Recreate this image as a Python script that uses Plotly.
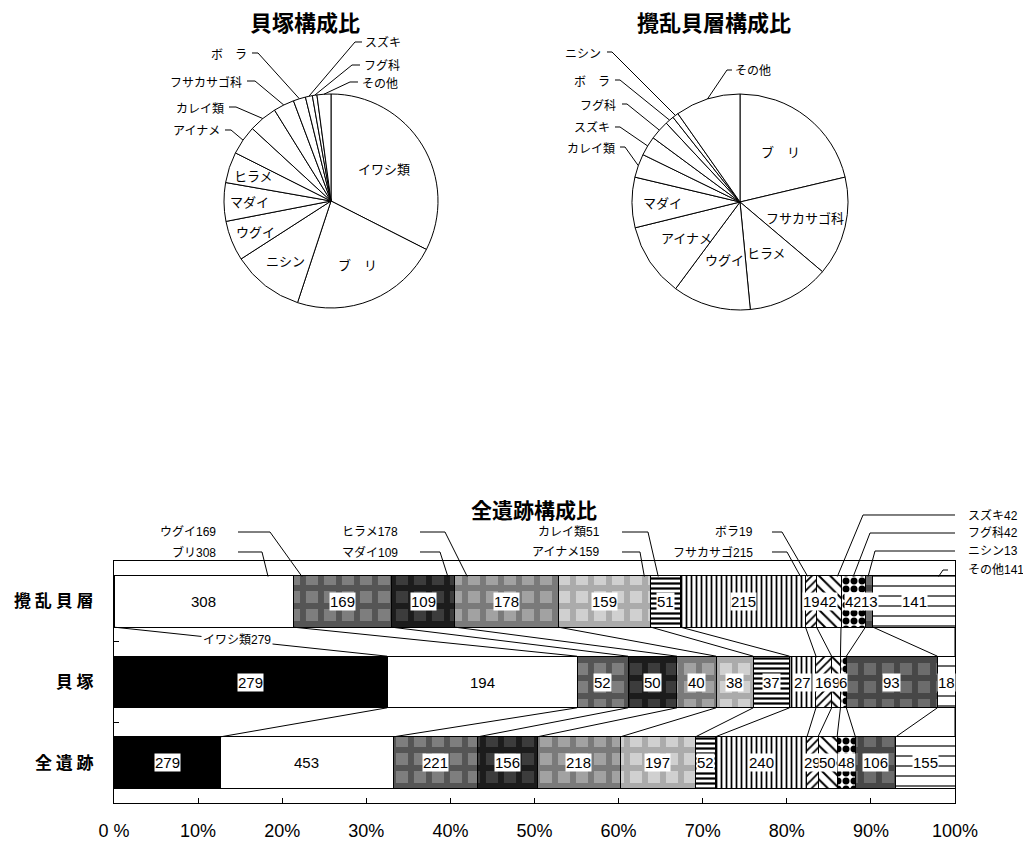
import numpy as np
import plotly.graph_objects as go

W, H = 1023, 843

# ---------------- data ----------------
species = ["イワシ類", "ブリ", "ウグイ", "マダイ", "ヒラメ", "アイナメ", "カレイ類",
           "フサカサゴ", "ボラ", "スズキ", "フグ科", "ニシン", "その他"]
kakuran = [0, 308, 169, 109, 178, 159, 51, 215, 19, 42, 42, 13, 141]      # 攪乱貝層
kaizuka = [279, 194, 52, 50, 40, 38, 37, 27, 16, 9, 6, 93, 18]            # 貝塚
zen_iseki = [279, 453, 221, 156, 218, 197, 52, 240, 29, 50, 48, 106, 155]  # 全遺跡
row_ticktext = ["攪 乱 貝 層", "貝 塚", "全 遺 跡"]
x_tickvals = [0, 10, 20, 30, 40, 50, 60, 70, 80, 90, 100]
x_ticktext = ["0 %", "10%", "20%", "30%", "40%", "50%", "60%", "70%", "80%", "90%", "100%"]

pie1_labels = ["イワシ類", "ブ　リ", "ニシン", "ウグイ", "マダイ", "ヒラメ", "アイナメ",
               "カレイ類", "フサカサゴ科", "ボ　ラ", "スズキ", "フグ科", "その他"]
pie1_values = [279, 194, 93, 52, 50, 40, 38, 37, 27, 16, 9, 6, 18]
pie2_labels = ["ブ　リ", "フサカサゴ科", "ヒラメ", "ウグイ", "アイナメ", "マダイ",
               "カレイ類", "スズキ", "フグ科", "ボ　ラ", "ニシン", "その他"]
pie2_values = [308, 215, 178, 169, 159, 109, 51, 42, 42, 19, 13, 141]

# ---------------- styles ----------------
JP = "Noto Sans CJK JP"
NUM = "Liberation Sans, Arial, Noto Sans CJK JP"
BLACK = "black"

# fill style per species: (base colour, pattern shape, pattern colour, size, solidity)
styles = [
    ("#000000", "", None, 8, 0.3),
    ("#ffffff", "", None, 8, 0.3),
    ("#7e7e7e", "+", "#555555", 18, 0.55),
    ("#3c3c3c", "+", "#1c1c1c", 18, 0.55),
    ("#a2a2a2", "+", "#7a7a7a", 18, 0.55),
    ("#d0d0d0", "+", "#ababab", 18, 0.55),
    ("#ffffff", "-", "#000000", 5, 0.45),
    ("#ffffff", "|", "#000000", 5, 0.35),
    ("#ffffff", "/", "#000000", 6, 0.3),
    ("#ffffff", "\\", "#000000", 8, 0.25),
    ("#ffffff", ".", "#000000", 8, 0.6),
    ("#6c6c6c", "+", "#474747", 18, 0.55),
    ("#ffffff", "-", "#000000", 10, 0.12),
]

# plot frame of the stacked bars (pixels) and row coordinates
BX0, BX1, BY0, BY1 = 114, 955, 561, 803
YMIN, YMAX = -0.5, 2.5
BAR_W = 0.64
rows_y = [2, 1, 0]
rows_data = [kakuran, kaizuka, zen_iseki]


def paper(x, y):
    return x / W, 1 - y / H


def xpct_px(p):
    return BX0 + p / 100 * (BX1 - BX0)


def yrow_px(v):
    return BY0 + (YMAX - v) / (YMAX - YMIN) * (BY1 - BY0)


def path(points):
    pts = [paper(x, y) for x, y in points]
    return "M " + " L ".join(f"{a:.5f},{b:.5f}" for a, b in pts)


def label(x, y, text, size=12, family=JP, xanchor="center", ref="paper", **kw):
    if ref == "paper":
        x, y = paper(x, y)
        xref = yref = "paper"
    else:
        xref, yref = "x", "y"
    return dict(x=x, y=y, xref=xref, yref=yref, text=text, showarrow=False,
                xanchor=xanchor, yanchor="middle",
                font=dict(family=family, size=size, color=BLACK), **kw)


fig = go.Figure()
annotations = []
shapes = []

# ---------------- pies ----------------
pies = [
    dict(labels=pie1_labels, values=pie1_values, cx=331, cy=201, r=107,
         title="貝塚構成比", tx=305, ty=21,
         inside={0: 0.58, 1: 0.64, 2: 0.7, 3: 0.76, 4: 0.76, 5: 0.76},
         outside={6: ("L", 222, 130, 225, 231), 7: ("L", 226, 107, 229, 236),
                  8: ("L", 244, 81, 247, 255), 9: ("L", 249, 53, 252, 258),
                  10: ("R", 363, 42, 362, 355), 11: ("R", 362, 65, 360, 352),
                  12: ("R", 360, 82, 358, 350)}),
    dict(labels=pie2_labels, values=pie2_values, cx=740, cy=202, r=108,
         title="攪乱貝層構成比", tx=714, ty=21,
         inside={0: 0.6, 1: 0.62, 2: 0.53, 3: 0.55, 4: 0.6, 5: 0.72},
         outside={6: ("L", 617, 147, 620, 625), 7: ("L", 612, 127, 615, 620),
                  8: ("L", 618, 104, 622, 627), 9: ("L", 612, 80, 615, 620),
                  10: ("L", 603, 52, 607, 612), 11: ("R", 733, 70, 732, 727)}),
]

for p in pies:
    cx, cy, r = p["cx"], p["cy"], p["r"]
    fig.add_trace(go.Pie(
        labels=p["labels"], values=p["values"], sort=False, direction="clockwise",
        rotation=0, textinfo="none", hoverinfo="label+value", showlegend=False,
        marker=dict(colors=["white"] * len(p["values"]), line=dict(color=BLACK, width=1)),
        domain=dict(x=[(cx - r) / W, (cx + r) / W], y=[1 - (cy + r) / H, 1 - (cy - r) / H]),
    ))
    v = np.array(p["values"], float)
    mids = (np.cumsum(v) - v / 2) / v.sum() * 2 * np.pi
    for i, frac in p["inside"].items():
        x = cx + frac * r * np.sin(mids[i])
        y = cy - frac * r * np.cos(mids[i])
        annotations.append(label(x, y, p["labels"][i], size=13))
    for i, (side, tx, ty, d0, d1) in p["outside"].items():
        ex = cx + r * np.sin(mids[i])
        ey = cy - r * np.cos(mids[i])
        annotations.append(label(tx, ty, p["labels"][i], size=12,
                                 xanchor="right" if side == "L" else "left"))
        shapes.append(dict(type="path", xref="paper", yref="paper",
                           path=path([(d0, ty), (d1, ty), (ex, ey)]),
                           line=dict(color=BLACK, width=1)))
    annotations.append(label(p["tx"], p["ty"], f"<b>{p['title']}</b>", size=22))

# ---------------- stacked bars ----------------
for i, name in enumerate(species):
    base, shape, fg, size, solid = styles[i]
    marker = dict(color=base, line=dict(color=BLACK, width=1))
    if shape:
        marker["pattern"] = dict(shape=shape, fgcolor=fg, bgcolor=base, size=size,
                                 solidity=solid, fillmode="overlay", fgopacity=1)
    fig.add_trace(go.Bar(
        name=name, orientation="h", y=rows_y, x=[d[i] for d in rows_data],
        width=BAR_W, marker=marker, showlegend=False, hoverinfo="x+name",
        xaxis="x", yaxis="y",
    ))

# cumulative percentages of each row
cum_end = []
for d in rows_data:
    a = np.array(d, float)
    cum_end.append(np.cumsum(a) / a.sum() * 100)
cum_start = [c - np.array(d, float) / np.sum(d) * 100 for c, d in zip(cum_end, rows_data)]

# series lines joining the segment ends of neighbouring bars
lx, ly = [], []
for r_a, r_b in [(0, 1), (1, 2)]:
    for i in range(len(species)):
        lx += [cum_end[r_a][i], cum_end[r_b][i], None]
        ly += [rows_y[r_a] - BAR_W / 2, rows_y[r_b] + BAR_W / 2, None]
fig.add_trace(go.Scatter(x=lx, y=ly, mode="lines", line=dict(color=BLACK, width=1),
                         hoverinfo="skip", showlegend=False, xaxis="x", yaxis="y"))

# value labels inside the segments
for r, d in enumerate(rows_data):
    for i, val in enumerate(d):
        if val == 0:
            continue
        mid = (cum_start[r][i] + cum_end[r][i]) / 2
        annotations.append(label(mid, rows_y[r], str(val), size=15, family=NUM, ref="data",
                                 bgcolor="white", borderpad=0))

# callouts for the 攪乱貝層 bar: (text side, text x, text y, line start x, elbow x, anchor in segment)
callouts = {
    1: ("L", 218, 552, 238, 262, 0.86),
    2: ("L", 218, 532, 238, 270, 0.09),
    3: ("L", 400, 552, 420, 440, 0.89),
    4: ("L", 400, 532, 420, 445, 0.12),
    5: ("L", 602, 552, 622, 640, 0.93),
    6: ("L", 602, 532, 622, 648, 0.25),
    7: ("L", 755, 552, 772, 787, 0.96),
    8: ("L", 755, 532, 772, 782, 0.2),
    9: ("R", 966, 515, 955, 863, 0.85),
    10: ("R", 966, 533, 955, 870, 0.5),
    11: ("R", 966, 551, 955, 875, 0.35),
    12: ("R", 966, 570, 948, 943, 0.8),
}
bar_top_px = yrow_px(rows_y[0] + BAR_W / 2) + 1
for i, (side, tx, ty, h0, h1, frac) in callouts.items():
    seg_x = cum_start[0][i] + frac * (cum_end[0][i] - cum_start[0][i])
    ex = xpct_px(seg_x)
    annotations.append(label(tx, ty, f"{species[i]}{kakuran[i]}", size=12, family=NUM,
                             xanchor="right" if side == "L" else "left"))
    shapes.append(dict(type="path", xref="paper", yref="paper",
                       path=path([(h0, ty), (h1, ty), (ex, bar_top_px)]),
                       line=dict(color=BLACK, width=1)))

# イワシ類 label sitting on its series line between the upper two bars
t = 0.45
iw_x = cum_end[0][0] + t * (cum_end[1][0] - cum_end[0][0])
iw_y = (rows_y[0] - BAR_W / 2) + t * ((rows_y[1] + BAR_W / 2) - (rows_y[0] - BAR_W / 2))
annotations.append(label(iw_x, iw_y, f"{species[0]}{kaizuka[0]}", size=12, family=NUM,
                         ref="data", bgcolor="white", borderpad=1))

# bar chart title
annotations.append(label(534, 509, "<b>全遺跡構成比</b>", size=21))

fig.update_layout(
    width=W, height=H, margin=dict(l=0, r=0, t=0, b=0, autoexpand=False),
    paper_bgcolor="white", plot_bgcolor="white",
    barmode="stack", barnorm="percent",
    xaxis=dict(domain=[BX0 / W, BX1 / W], range=[0, 100], tickmode="array",
               tickvals=x_tickvals, ticktext=x_ticktext, ticks="inside", ticklen=5,
               tickcolor=BLACK, showline=True, mirror=True, linecolor=BLACK, linewidth=1,
               showgrid=False, zeroline=False, ticklabelstandoff=11, automargin=False,
               tickfont=dict(family="Liberation Sans, Arial", size=18, color=BLACK)),
    yaxis=dict(domain=[1 - BY1 / H, 1 - BY0 / H], range=[YMIN, YMAX], tickmode="array",
               tickvals=rows_y, ticktext=row_ticktext, ticks="", showline=True, mirror=True,
               linecolor=BLACK, linewidth=1, showgrid=False, zeroline=False,
               ticklabelstandoff=16, automargin=False,
               tickfont=dict(family=JP, size=17, color=BLACK, weight="bold"),
               minor=dict(tickmode="array", tickvals=[0.5, 1.5], ticks="inside", ticklen=5,
                          tickcolor=BLACK, showgrid=False)),
    annotations=annotations, shapes=shapes,
)

fig.write_html("out.html")
